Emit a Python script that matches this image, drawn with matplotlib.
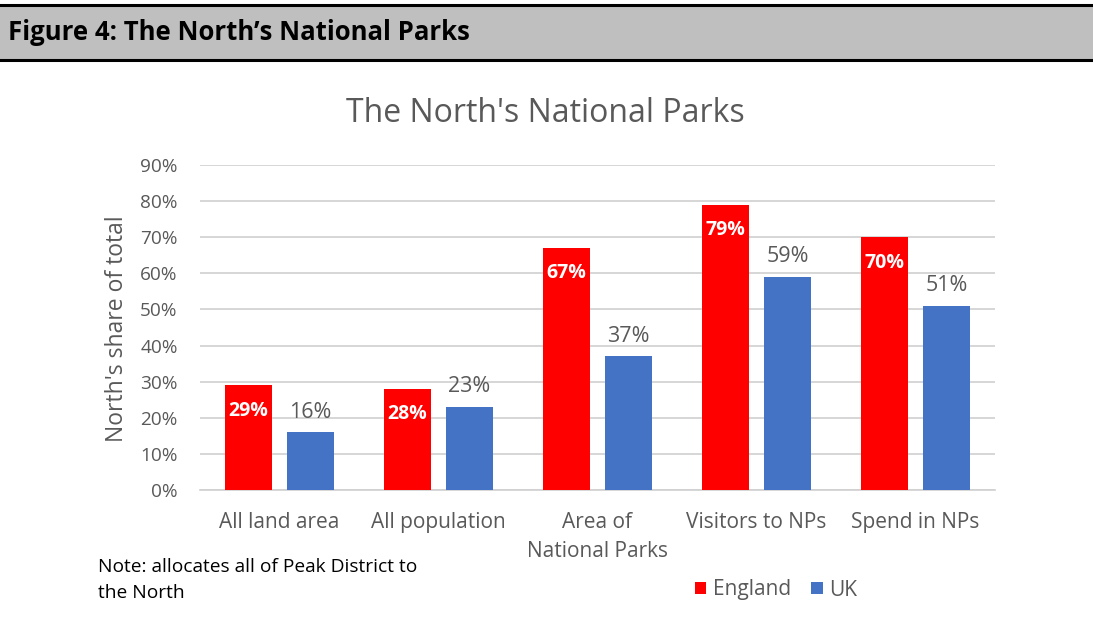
import matplotlib
matplotlib.use("Agg")
import matplotlib.pyplot as plt
from matplotlib.patches import Rectangle
import numpy as np

categories = ["All land area", "All population", "Area of\nNational Parks",
              "Visitors to NPs", "Spend in NPs"]
england = [29, 28, 67, 79, 70]
uk = [16, 23, 37, 59, 51]
yticks = list(range(0, 91, 10))

RED = "#FF0000"
BLUE = "#4472C4"
GREY_TXT = "#595959"
FONT = ["Open Sans", "DejaVu Sans"]

plt.rcParams["font.family"] = FONT

W, H = 1093, 640
fig = plt.figure(figsize=(W / 100, H / 100), dpi=100)
fig.patch.set_facecolor("white")

# header band
fig.add_artist(Rectangle((0, 1 - 60 / H), 1.0, 54 / H, transform=fig.transFigure,
                         facecolor="#BFBFBF", edgecolor="none"))
fig.add_artist(plt.Line2D([0, 1], [1 - 5 / H, 1 - 5 / H], transform=fig.transFigure,
                          color="black", lw=2.2))
fig.add_artist(plt.Line2D([0, 1], [1 - 60 / H, 1 - 60 / H], transform=fig.transFigure,
                          color="black", lw=2.2))
fig.text(8 / W, 1 - 33 / H, "Figure 4: The North\u2019s National Parks",
         fontsize=18.5, fontweight="bold", va="center", ha="left", color="black")

# plot area
left, right, bottom, top = 200, 995, 490, 165
ax = fig.add_axes([left / W, 1 - bottom / H, (right - left) / W, (bottom - top) / H])

x = np.arange(len(categories))
bw = 0.30
off = 0.195
b1 = ax.bar(x - off, england, bw, color=RED, label="England", zorder=3)
b2 = ax.bar(x + off, uk, bw, color=BLUE, label="UK", zorder=3)

for xi, v in zip(x, england):
    ax.text(xi - off, v - 7, f"{v}%", ha="center", va="center", color="white",
            fontsize=14, fontweight="bold", zorder=4)
for xi, v in zip(x, uk):
    ax.text(xi + off, v + 5.6, f"{v}%", ha="center", va="center", color=GREY_TXT,
            fontsize=15.5, zorder=4)

ax.set_xlim(-0.5, len(categories) - 0.5)
ax.set_ylim(0, 90)
ax.set_yticks(yticks)
ax.set_yticklabels([f"{t}%" for t in yticks])
ax.set_xticks(x)
ax.set_xticklabels(categories)
ax.tick_params(axis="both", length=0, colors=GREY_TXT)
ax.tick_params(axis="y", pad=16, labelsize=13.7)
ax.tick_params(axis="x", pad=16, labelsize=15)
for lbl in ax.get_xticklabels():
    lbl.set_linespacing(1.5)
ax.yaxis.grid(True, color="#D0D0D0", lw=1.2, zorder=0)
ax.set_axisbelow(True)
for s in ["top", "right", "left"]:
    ax.spines[s].set_visible(False)
ax.spines["bottom"].set_color("#D0D0D0")
ax.spines["bottom"].set_linewidth(1.2)

fig.text(117 / W, 1 - 329 / H, "North's share of total", rotation=90, fontsize=16.5,
         color=GREY_TXT, ha="center", va="center")

fig.text(545 / W, 1 - 113 / H, "The North's National Parks", fontsize=23,
         color=GREY_TXT, ha="center", va="center")

leg = fig.legend(handles=[b1, b2], labels=["England", "UK"], loc="center",
                 bbox_to_anchor=(776 / W, 1 - 590 / H), ncol=2, frameon=False,
                 fontsize=15, handlelength=0.55, handleheight=0.55, handletextpad=0.3,
                 columnspacing=1.0)
for t in leg.get_texts():
    t.set_color(GREY_TXT)

fig.text(98 / W, 1 - 567 / H, "Note: allocates all of Peak District to", fontsize=13.8,
         color="black", ha="left", va="center")
fig.text(98 / W, 1 - 593 / H, "the North", fontsize=13.8,
         color="black", ha="left", va="center")

fig.savefig("out.png", dpi=100, facecolor="white")
